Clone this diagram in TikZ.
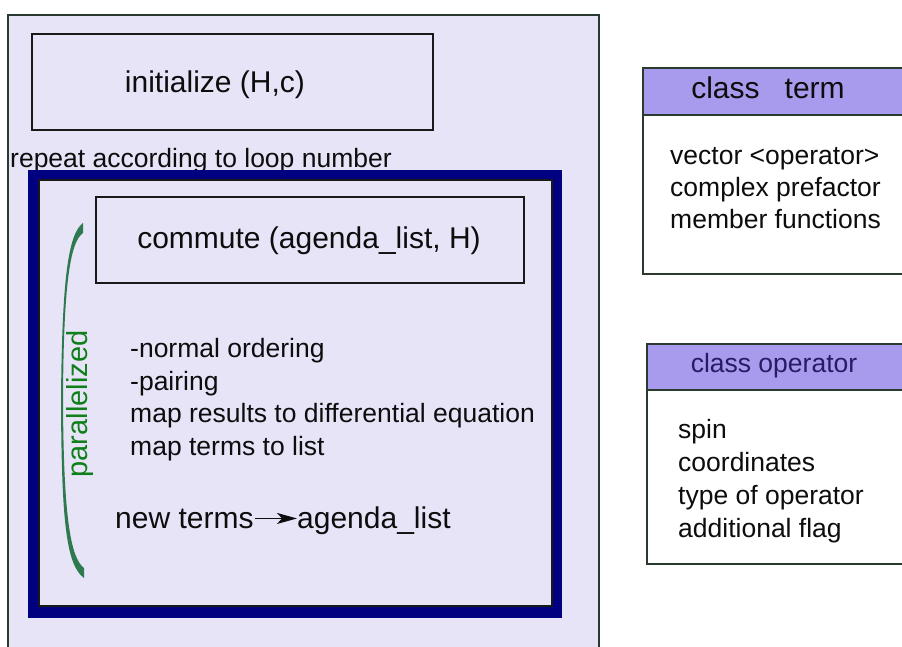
\documentclass[tikz,border=0pt]{standalone}
\usepackage{fontspec}
\setmainfont{Liberation Sans}
\usetikzlibrary{arrows.meta}
\definecolor{lav}{RGB}{231,228,248}
\definecolor{hdr}{RGB}{168,155,238}
\definecolor{navyframe}{RGB}{0,0,128}
\definecolor{bord}{RGB}{42,58,46}
\definecolor{arcg}{RGB}{46,122,78}
\definecolor{txtg}{RGB}{15,128,25}
\definecolor{hdrtxt}{RGB}{40,28,100}
\begin{document}
\begin{tikzpicture}[x=1pt,y=-1pt,
  fA/.style={font=\fontsize{26.5}{32}\selectfont},
  fB/.style={font=\fontsize{30}{36}\selectfont},
  txt/.style={inner sep=0pt, anchor=base west, text=black!95},
  ctxt/.style={inner sep=0pt, anchor=base, text=black!95},
  procbox/.style={draw=black!90, line width=2pt, fill=lav, rectangle, inner sep=0pt, anchor=north west},
  hdrbox/.style={draw=bord, line width=2pt, fill=hdr, rectangle, inner sep=0pt, anchor=north west},
  bodybox/.style={draw=bord, line width=2pt, fill=white, rectangle, inner sep=0pt, anchor=north west}]
\clip (0,0) rectangle (902,646);
\fill[white] (0,0) rectangle (902,646);
% outer container
\node[draw=bord, line width=2pt, fill=lav, rectangle, inner sep=0pt, anchor=north west,
      minimum width=591pt, minimum height=650pt] (outer) at (7,14) {};
% initialize
\node[procbox, minimum width=401pt, minimum height=96pt] (init) at (31,33) {};
\node[fB, ctxt] (initT) at (215,92) {initialize (H,c)};
% repeat label
\node[fA, txt] (rep) at (10,167) {repeat according to loop number};
% navy loop frame
\node[fill=navyframe, rectangle, inner sep=0pt, anchor=north west,
      minimum width=534pt, minimum height=448pt] (loopF) at (28,170) {};
\node[draw=black!90, line width=1.5pt, fill=lav, rectangle, inner sep=0pt, anchor=north west,
      minimum width=513pt, minimum height=426pt] (loopI) at (38,179) {};
% commute
\node[procbox, minimum width=428pt, minimum height=86pt] (comm) at (95,196) {};
\node[fB, ctxt] (commT) at (309,248) {commute (agenda\_list, H)};
% list
\node[fA, txt] (l1) at (130,357) {-normal ordering};
\node[fA, txt] (l2) at (130,390) {-pairing};
\node[fA, txt] (l3) at (130,422) {map results to differential equation};
\node[fA, txt] (l4) at (130,455) {map terms to list};
% new terms -> agenda_list
\node[fB, txt] (nt) at (115,528) {new terms};
\node[fB, txt] (al) at (297,528) {agenda\_list};
\draw[line width=1.3pt, black!95, -{Stealth[length=20pt,width=11pt,inset=5pt]}]
  ([xshift=1pt]nt.east) -- (nt.east -| al.west);
% parallel arc
\fill[arcg] (83,223) .. controls (68,234) and (62,280) .. (61,400)
  .. controls (61.5,520) and (66,565) .. (84,578) -- (84,568)
  .. controls (71,558) and (63.5,520) .. (63,400)
  .. controls (63.5,285) and (70,242) .. (83,233) -- cycle;
\node[font=\fontsize{29}{34}\selectfont, text=txtg, rotate=90, inner sep=0pt] (par) at (80,404) {parallelized};
% class term
\node[bodybox, minimum width=268pt, minimum height=206pt] (termB) at (642,67) {};
\node[hdrbox, minimum width=268pt, minimum height=47pt] (termH) at (642,67) {};
\node[fB, ctxt] (termT) at (768,98) {class\ \ \ term};
\node[fA, txt] (t1) at (670,164) {vector <operator>};
\node[fA, txt] (t2) at (670,196) {complex prefactor};
\node[fA, txt] (t3) at (670,228) {member functions};
% class operator
\node[bodybox, minimum width=264pt, minimum height=220pt] (opB) at (646,343) {};
\node[hdrbox, minimum width=264pt, minimum height=46pt] (opH) at (646,343) {};
\node[fA, ctxt, text=hdrtxt] (opT) at (774,372) {class operator};
\node[fA, txt] (o1) at (678,438) {spin};
\node[fA, txt] (o2) at (678,471) {coordinates};
\node[fA, txt] (o3) at (678,504) {type of operator};
\node[fA, txt] (o4) at (678,537) {additional flag};
\end{tikzpicture}
\end{document}
